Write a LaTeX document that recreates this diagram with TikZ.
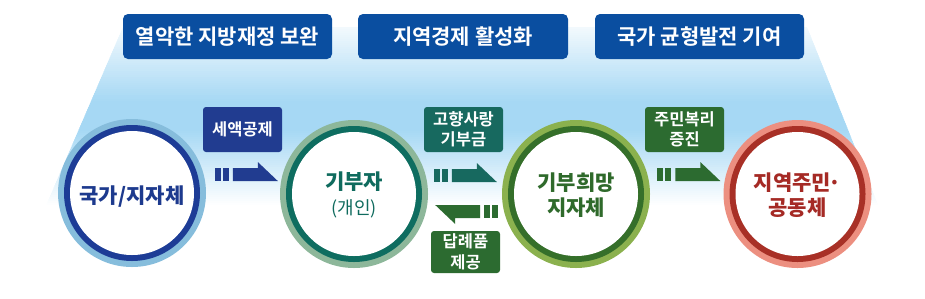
\documentclass[tikz,border=0pt]{standalone}
\usepackage{fontspec}
\newfontfamily\kr{Noto Sans CJK KR}[BoldFont={Noto Sans CJK KR Bold}]
\newfontfamily\krh{Noto Sans CJK KR Black}
\usetikzlibrary{calc}
\definecolor{topblue}{HTML}{0A4EA0}
\definecolor{skyblue}{HTML}{A6D8F4}
\definecolor{taxblue}{HTML}{213C90}
\definecolor{tealc}{HTML}{17695F}
\definecolor{greenc}{HTML}{2C6B30}
\definecolor{aOut}{HTML}{86BDDC}
\definecolor{aIn}{HTML}{1D3C96}
\definecolor{aTxt}{HTML}{1D3A8E}
\definecolor{bOut}{HTML}{8DB79A}
\definecolor{bIn}{HTML}{0E6D60}
\definecolor{bTxt}{HTML}{0F6B5E}
\definecolor{cOut}{HTML}{8BB14E}
\definecolor{cIn}{HTML}{356F2A}
\definecolor{cTxt}{HTML}{2F6A2B}
\definecolor{dOut}{HTML}{EC8F80}
\definecolor{dIn}{HTML}{A83026}
\definecolor{dTxt}{HTML}{A52A25}
\tikzset{
  topbox/.style={fill=topblue, rounded corners=5pt, minimum width=209pt, minimum height=45pt,
    text=white, inner sep=0pt, font=\kr\bfseries\fontsize{21}{24}\selectfont},
  tagbox/.style={rounded corners=3pt, minimum width=79pt, minimum height=45pt, text=white,
    align=center, inner sep=0pt, font=\kr\bfseries\fontsize{16.5}{20.5}\selectfont},
  ringnode/.style={circle, minimum size=148pt, inner sep=0pt},
  circtext/.style={align=center, font=\krh\fontsize{21}{25}\selectfont},
  halfarrow/.pic={
    \fill (-63,0) rectangle (-57,-13);
    \fill (-55,0) rectangle (-49,-13);
    \fill (-45,0) -- (-45,-13) -- (-20,-13) -- (-20,-19) -- (0,0) -- cycle;
  }
}
\newcommand{\ringfill}[3]{%
  \fill[#1] (#3.center) circle (74pt);
  \fill[#2] (#3.center) circle (68pt);
  \fill[white] (#3.center) circle (62pt);
}
\begin{document}
\begin{tikzpicture}[x=1pt,y=-1pt]
\useasboundingbox (0,0) rectangle (925,298);
% background trapezoid with vertical fade
\begin{scope}
  \clip (123,27) -- (807,27) -- (882,215) -- (42,215) -- cycle;
  \foreach \yy in {27,29,...,213}{
    \pgfmathtruncatemacro{\pp}{\yy<100 ? 15+85*(\yy-27)/73 : (\yy<130 ? 100 : max(0,100-100*(\yy-130)/75))}
    \fill[skyblue!\pp!white] (0,\yy) rectangle (925,\yy+2.6);
  }
\end{scope}
% top boxes
\node[topbox] (t1) at (227.5,36.5) {열악한 지방재정 보완};
\node[topbox, minimum width=210pt] (t2) at (463,36.5) {지역경제 활성화};
\node[topbox] (t3) at (699.5,36.5) {국가 균형발전 기여};
% circles
\node[ringnode] (c1) at (132,193) {};
\node[ringnode] (c2) at (354,194) {};
\node[ringnode] (c3) at (576,194) {};
\node[ringnode] (c4) at (797.5,194) {};
\ringfill{aOut}{aIn}{c1}
\ringfill{bOut}{bIn}{c2}
\ringfill{cOut}{cIn}{c3}
\ringfill{dOut}{dIn}{c4}
\node[circtext, text=aTxt] (c1t) at ($(c1.center)+(0,4)$) {국가/지자체};
\node[circtext, text=bTxt] (c2t) at ($(c2.center)+(0,1)$) {기부자\\{\kr\fontsize{18}{25}\selectfont(개인)}};
\node[circtext, text=cTxt] (c3t) at ($(c3.center)+(0,1)$) {기부희망\\지자체};
\node[circtext, text=dTxt] (c4t) at ($(c4.center)+(0,1)$) {지역주민\kern-3pt·\\공동체};
% label boxes
\node[tagbox, fill=taxblue] (l1) at (242.5,129.5) {세액공제};
\node[tagbox, fill=tealc] (l2) at (463.5,129.5) {고향사랑\\기부금};
\node[tagbox, fill=greenc, minimum width=69pt, minimum height=42pt] (l3) at (465.5,252) {답례품\\제공};
\node[tagbox, fill=greenc] (l4) at (684.5,129.5) {주민복리\\증진};
% arrows
\pic[taxblue] at ($(c2.west)+(-2,-13)$) {halfarrow};
\pic[tealc] at ($(c3.west)+(-5,-12)$) {halfarrow};
\pic[greenc, rotate=180] at ($(c2.east)+(7,11)$) {halfarrow};
\pic[greenc] at ($(c4.west)+(-3,-13)$) {halfarrow};
\end{tikzpicture}
\end{document}
